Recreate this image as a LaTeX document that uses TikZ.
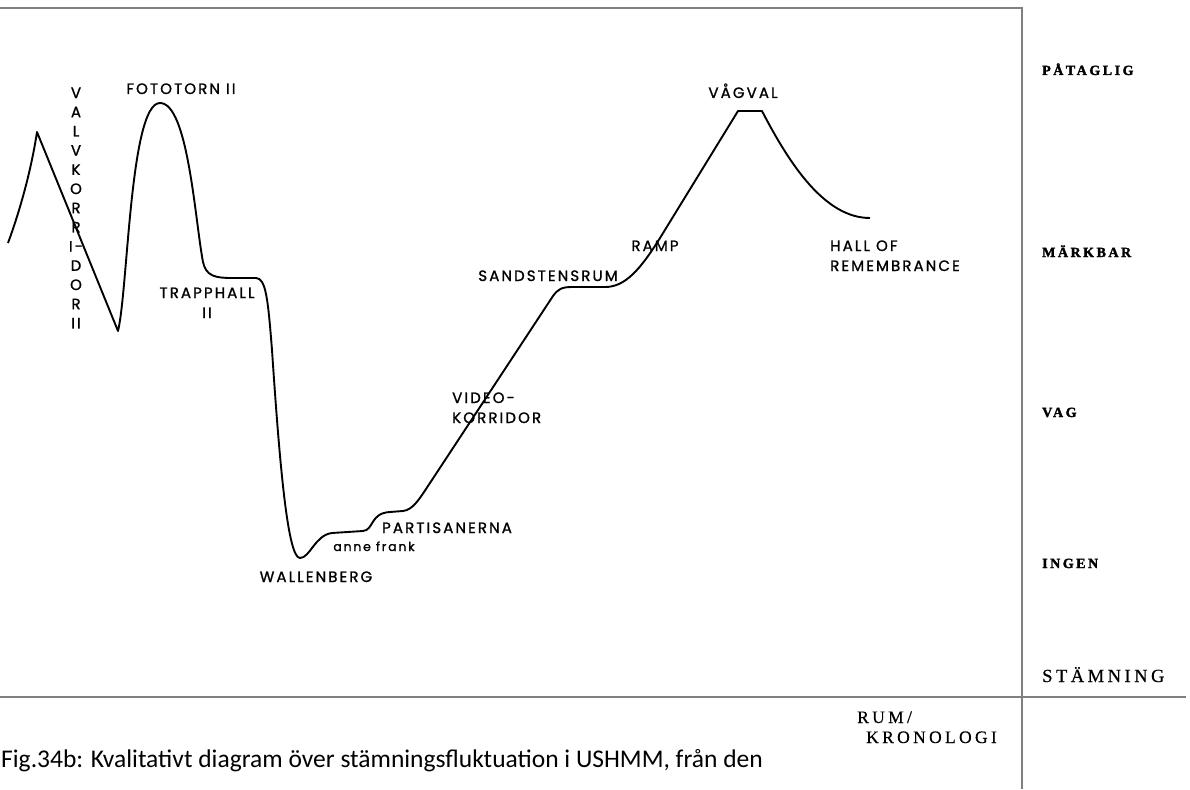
\documentclass[tikz,border=0pt]{standalone}
\usepackage{fontspec}
\setmainfont{Liberation Serif}
\newfontfamily\labfont[LetterSpace=14,FakeBold=1.2]{Poppins}
\newfontfamily\smallfont[LetterSpace=14,FakeBold=1.2]{Poppins}
\newfontfamily\axfont[LetterSpace=18,FakeBold=2]{Liberation Serif}
\newfontfamily\axlfont[LetterSpace=19,FakeBold=0.6]{Liberation Serif}
\newfontfamily\capfont{Carlito}
\begin{document}
\begin{tikzpicture}[x=1pt,y=-1pt,
  axis/.style={draw=black!50,line width=2pt},
  curve/.style={draw=black,line width=1.9pt,line join=round},
  lab/.style={font=\labfont\fontsize{15}{20}\selectfont,inner sep=0pt,align=center},
  small/.style={font=\smallfont\fontsize{12.5}{15}\selectfont,inner sep=0pt},
  ax/.style={font=\axfont\bfseries\fontsize{14}{16}\selectfont,inner sep=0pt,anchor=base west},
  axl/.style={font=\axlfont\fontsize{18.5}{20}\selectfont,inner sep=0pt,anchor=base west},
  vl/.style={font=\labfont\fontsize{15}{19.2}\selectfont,inner sep=0pt,align=center}
]
\useasboundingbox (0,0) rectangle (1190,789);
% frame lines
\coordinate (tl) at (0,8);
\coordinate (tr) at (1022,8);
\coordinate (vb) at (1022,789);
\coordinate (bl) at (0,697);
\coordinate (br) at (1186,697);
\draw[axis] (tl) -- (tr) -- (vb);
\draw[axis] (bl) -- (br);
% curve
\draw[curve] (8,243) .. controls (22,205) and (32,165) .. (37,132)
  -- (118,331)
  .. controls (128,290) and (130,103) .. (160,103)
  .. controls (188,103) and (195,220) .. (203,262)
  .. controls (206,276) and (215,278) .. (232,278)
  -- (256,278)
  .. controls (266,278) and (268,300) .. (272,350)
  .. controls (280,470) and (288,558) .. (300,558)
  .. controls (310,558) and (315,535) .. (332,533)
  -- (363,531)
  .. controls (374,530) and (370,513) .. (390,512)
  -- (403,511)
  .. controls (413,510) and (420,498) .. (428,486)
  -- (553,296)
  .. controls (558,289) and (562,287) .. (572,287)
  -- (605,287)
  .. controls (625,287) and (640,270) .. (660,238)
  -- (738,111) -- (762,111)
  .. controls (790,165) and (825,218) .. (870,218);
% labels
\node[vl] (valv) at (76,208) {V\\A\\L\\V\\K\\O\\R\\R\\I-\\D\\O\\R\\II};
\node[lab,anchor=base] (foto) at (181,94) {FOTOTORN II};
\node[lab,anchor=base] (trap) at (207,318) {TRAPPHALL\\II};
\node[lab,anchor=base] (wall) at (316,582) {WALLENBERG};
\node[small,anchor=base] (anne) at (374,551) {anne frank};
\node[lab,anchor=base] (part) at (447,533) {PARTISANERNA};
\node[lab,anchor=base west,align=left] (video) at (452,423) {VIDEO-\\KORRIDOR};
\node[lab,anchor=base] (sand) at (548,281) {SANDSTENSRUM};
\node[lab,anchor=base] (ramp) at (655,251) {RAMP};
\node[lab,anchor=base] (vagval) at (743,98) {VÅGVAL};
\node[lab,anchor=base west,align=left] (hall) at (830,271) {HALL OF\\REMEMBRANCE};
% axis labels
\node[ax] (pat) at (1042,75) {PÅTAGLIG};
\node[ax] (mark) at (1042,257) {MÄRKBAR};
\node[ax] (vag) at (1042,417) {VAG};
\node[ax] (ingen) at (1042,568) {INGEN};
\node[axl] (stam) at (1042,682) {STÄMNING};
\node[axl,anchor=base west,align=left,font=\axlfont\fontsize{17.5}{20}\selectfont] (rum) at (857,743) {RUM/\\\hspace*{9pt}KRONOLOGI};
\node[font=\capfont\fontsize{25.5}{30}\selectfont,inner sep=0pt,anchor=base west] (cap) at (1,767) {Fig.34b: Kvalitativt diagram över stämningsfluktuation i USHMM, från den};
\end{tikzpicture}
\end{document}
